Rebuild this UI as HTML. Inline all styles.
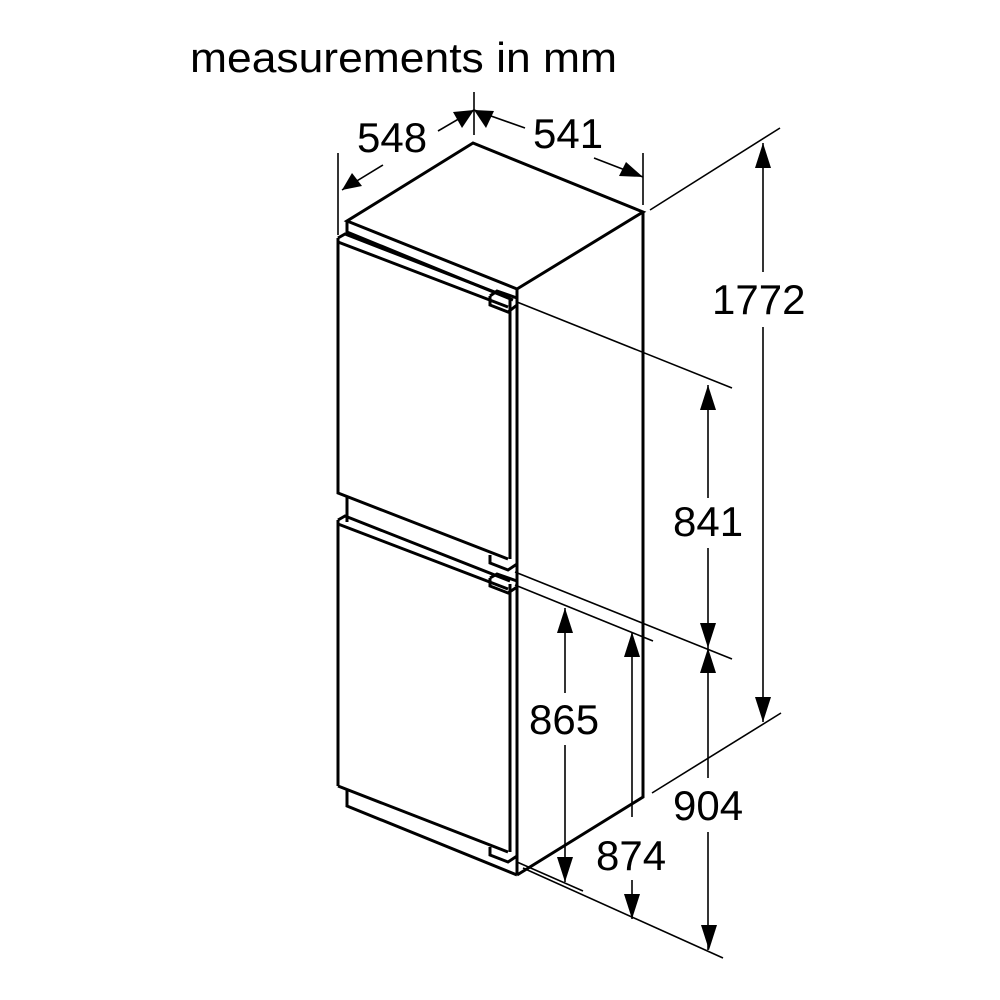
<!DOCTYPE html>
<html><head><meta charset="utf-8"><style>html,body{margin:0;padding:0;background:#fff}svg{display:block}</style></head>
<body>
<svg width="1000" height="1000" viewBox="0 0 1000 1000" xmlns="http://www.w3.org/2000/svg">
<rect width="1000" height="1000" fill="#fff"/>
<g font-family="Liberation Sans, Arial, sans-serif" fill="#000">
<text x="190" y="72" font-size="42" textLength="427" lengthAdjust="spacingAndGlyphs">measurements in mm</text>
<text x="357" y="152" font-size="42">548</text>
<text x="533" y="148" font-size="42">541</text>
<text x="712" y="314" font-size="42">1772</text>
<text x="673" y="536" font-size="42">841</text>
<text x="529" y="734" font-size="42">865</text>
<text x="673" y="820" font-size="42">904</text>
<text x="596" y="870" font-size="42">874</text>
</g>
<g fill="none" stroke="#000" stroke-width="3" stroke-linejoin="miter">
<!-- top -->
<polygon points="473,143 643,212 517,289 347,221" fill="#fff"/>
<polyline points="347,221 347,232 513,300"/>
<!-- right side -->
<polyline points="643,212 643,797 517,875"/>
<line x1="517" y1="289" x2="517" y2="875"/>
<!-- upper door -->
<polyline points="338,238 338,493 508,559"/>
<polyline points="338,238 345,234 510,298"/>
<line x1="338" y1="242" x2="508" y2="307"/>
<line x1="510" y1="298" x2="510" y2="559"/>
<!-- hinge top -->
<polyline points="490,296 490,305 508,312 517,305"/>
<polyline points="490,296 497,291 517,298"/>
<!-- middle strip -->
<polyline points="347,497 347,522"/>
<polyline points="338,520 345,516 510,581"/>
<line x1="338" y1="524" x2="508" y2="589"/>
<polyline points="490,555 490,563 508,570 517,564"/>
<polyline points="490,578 490,586 508,593 517,587"/>
<polyline points="490,578 497,574 517,581"/>
<!-- lower door -->
<line x1="338" y1="520" x2="338" y2="786"/>
<line x1="338" y1="786" x2="508" y2="852"/>
<line x1="510" y1="584" x2="510" y2="852"/>
<polyline points="490,847 490,855 508,862 517,856"/>
<!-- plinth -->
<polyline points="347,789 347,806 517,875"/>
</g>
<g stroke="#000" stroke-width="1.6" fill="none">
<!-- top dims -->
<line x1="474" y1="92" x2="474" y2="135"/>
<line x1="338" y1="153" x2="338" y2="235"/>
<line x1="643" y1="153" x2="643" y2="205"/>
<line x1="438" y1="131" x2="474" y2="110"/>
<line x1="383" y1="165" x2="342" y2="190"/>
<line x1="474" y1="110" x2="525" y2="128"/>
<line x1="594" y1="158" x2="643" y2="177"/>
<!-- 1772 -->
<line x1="650" y1="210" x2="780" y2="128"/>
<line x1="652" y1="793" x2="781" y2="713"/>
<line x1="763" y1="143" x2="763" y2="272"/>
<line x1="763" y1="327" x2="763" y2="722"/>
<!-- 841 -->
<line x1="517" y1="302" x2="732" y2="388"/>
<line x1="515" y1="572" x2="732" y2="659"/>
<line x1="708" y1="385" x2="708" y2="498"/>
<line x1="708" y1="548" x2="708" y2="648"/>
<!-- 904 -->
<line x1="708" y1="648" x2="708" y2="778"/>
<line x1="708" y1="832" x2="708" y2="950"/>
<line x1="523" y1="868" x2="723" y2="958"/>
<!-- 865 -->
<line x1="515" y1="585" x2="653" y2="641"/>
<line x1="565" y1="608" x2="565" y2="693"/>
<line x1="565" y1="745" x2="565" y2="882"/>
<line x1="517" y1="862" x2="583" y2="891"/>
<!-- 874 -->
<line x1="632" y1="632" x2="632" y2="817"/>
<line x1="632" y1="880" x2="632" y2="919"/>
</g>
<g fill="#000">
<!-- top arrows -->
<polygon points="474,110 453,112 462,128"/>
<polygon points="342,190 352,173 362,186"/>
<polygon points="474,110 494,111 486,128"/>
<polygon points="643,177 619,176 626,162"/>
<!-- 1772 -->
<polygon points="763,143 755,168 771,168"/>
<polygon points="763,722 755,697 771,697"/>
<!-- 841 -->
<polygon points="708,385 700,410 716,410"/>
<polygon points="708,648 700,623 716,623"/>
<!-- 904 -->
<polygon points="708,648 700,673 716,673"/>
<polygon points="709,950 701,925 717,925"/>
<!-- 865 -->
<polygon points="565,608 557,633 573,633"/>
<polygon points="565,882 557,857 573,857"/>
<!-- 874 -->
<polygon points="632,632 624,657 640,657"/>
<polygon points="632,919 624,894 640,894"/>
</g>
</svg>
</body></html>
